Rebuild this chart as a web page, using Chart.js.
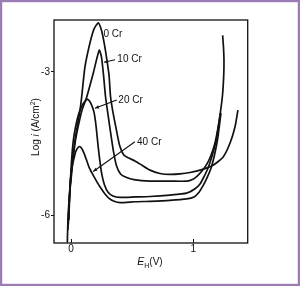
<!DOCTYPE html>
<html>
<head>
<meta charset="utf-8">
<script src="https://cdn.jsdelivr.net/npm/chart.js@4/dist/chart.umd.min.js"></script>
<style>
  html, body { margin: 0; padding: 0; background: #fff; }
  #wrap { width: 300px; height: 286px; }
</style>
</head>
<body>
<div id="wrap"><canvas id="polChart" width="300" height="286"></canvas></div>
<script>
// potential E_H (V) and log i (A/cm2)
const e0 = [-0.03, -0.025, -0.016, -0.004, 0.012, 0.033, 0.053, 0.074, 0.087, 0.114, 0.155, 0.188, 0.223, 0.251, 0.274, 0.294, 0.311, 0.323, 0.343, 0.368, 0.397, 0.433, 0.474, 0.523, 0.581, 0.646, 0.728, 0.809, 0.891, 0.973, 1.069, 1.161, 1.243, 1.300, 1.341, 1.365];
const l0 = [-6.56, -6.09, -5.67, -5.26, -4.84, -4.42, -4.11, -3.80, -3.53, -2.90, -2.40, -2.11, -1.98, -2.15, -2.44, -2.76, -3.07, -3.51, -3.84, -4.17, -4.53, -4.74, -4.80, -4.86, -4.95, -5.05, -5.12, -5.14, -5.13, -5.10, -5.04, -4.95, -4.78, -4.49, -4.15, -3.80];

const e10 = [-0.026, -0.018, -0.008, 0.004, 0.016, 0.037, 0.061, 0.090, 0.128, 0.182, 0.231, 0.249, 0.266, 0.282, 0.303, 0.327, 0.348, 0.372, 0.405, 0.450, 0.515, 0.646, 0.809, 0.946, 0.998, 1.030, 1.071, 1.112, 1.145, 1.177, 1.202, 1.222, 1.239, 1.249, 1.251, 1.247, 1.240];
const l10 = [-6.30, -5.88, -5.46, -5.15, -4.84, -4.42, -4.11, -3.80, -3.53, -3.03, -2.55, -2.69, -3.07, -3.51, -3.90, -4.32, -4.67, -4.96, -5.13, -5.20, -5.25, -5.28, -5.28, -5.28, -5.24, -5.18, -5.07, -4.92, -4.74, -4.49, -4.17, -3.84, -3.49, -3.07, -2.76, -2.49, -2.24];

const e20 = [-0.022, -0.016, -0.008, 0.000, 0.011, 0.025, 0.049, 0.074, 0.098, 0.119, 0.133, 0.151, 0.168, 0.188, 0.204, 0.221, 0.237, 0.253, 0.274, 0.303, 0.343, 0.401, 0.523, 0.646, 0.809, 0.946, 1.014, 1.055, 1.087, 1.120, 1.153, 1.182, 1.202, 1.222];
const l20 = [-6.19, -5.78, -5.42, -5.05, -4.63, -4.32, -4.01, -3.80, -3.67, -3.60, -3.57, -3.61, -3.69, -3.84, -4.11, -4.53, -4.88, -5.15, -5.36, -5.51, -5.59, -5.62, -5.61, -5.60, -5.57, -5.53, -5.44, -5.34, -5.19, -5.01, -4.76, -4.49, -4.21, -3.86];

const e40 = [-0.018, -0.012, -0.004, 0.008, 0.025, 0.041, 0.065, 0.082, 0.102, 0.127, 0.151, 0.180, 0.213, 0.245, 0.278, 0.311, 0.352, 0.401, 0.523, 0.646, 0.809, 0.946, 1.006, 1.047, 1.079, 1.112, 1.145, 1.173, 1.198, 1.214, 1.226];
const l40 = [-6.09, -5.67, -5.26, -4.99, -4.80, -4.65, -4.56, -4.58, -4.67, -4.84, -5.01, -5.15, -5.30, -5.43, -5.55, -5.64, -5.70, -5.73, -5.71, -5.70, -5.68, -5.65, -5.61, -5.51, -5.38, -5.21, -5.01, -4.74, -4.42, -4.11, -3.86];

const xTicks = [0, 1];
const yTicks = [-6, -3];

// curve labels, anchored in data units, with leader lines to the curve
const curveLabels = [
  { text: '0 Cr', at: [0.266, -2.21] },
  { text: '10 Cr', at: [0.379, -2.74], from: [0.360, -2.75], to: [0.270, -2.80] },
  { text: '20 Cr', at: [0.387, -3.60], from: [0.374, -3.59], to: [0.196, -3.76] },
  { text: '40 Cr', at: [0.540, -4.46], from: [0.523, -4.46], to: [0.182, -5.08] }
];

const FONT = '"Liberation Sans", Arial, Helvetica, sans-serif';
const INK = '#111';

function pts(es, ls) {
  return es.map((e, i) => ({ x: e, y: ls[i] }));
}

function curve(label, es, ls) {
  return {
    label: label,
    data: pts(es, ls),
    showLine: true,
    borderColor: INK,
    borderWidth: 1.7,
    pointRadius: 0,
    tension: 0.2,
    fill: false
  };
}

// draw a run of text pieces with their own font / vertical shift
function richText(ctx, parts, x, y) {
  let w = 0;
  parts.forEach(p => { ctx.font = p.font; w += ctx.measureText(p.t).width; });
  let cx = x - w / 2;
  parts.forEach(p => {
    ctx.font = p.font;
    ctx.fillText(p.t, cx, y + (p.dy || 0));
    cx += ctx.measureText(p.t).width;
  });
}

const extras = {
  id: 'extras',
  beforeDraw(chart) {
    const { ctx, width, height } = chart;
    ctx.save();
    ctx.fillStyle = '#fff';
    ctx.fillRect(0, 0, width, height);
    ctx.restore();
  },
  afterDraw(chart) {
    const { ctx, width, height, chartArea: a, scales: { x, y } } = chart;
    ctx.save();

    // plot frame
    ctx.strokeStyle = INK;
    ctx.lineWidth = 1.3;
    ctx.strokeRect(a.left, a.top, a.right - a.left, a.bottom - a.top);

    // x ticks point into the plot
    ctx.lineWidth = 1;
    xTicks.forEach(v => {
      const px = Math.round(x.getPixelForValue(v)) + 0.5;
      ctx.beginPath();
      ctx.moveTo(px, a.bottom);
      ctx.lineTo(px, a.bottom - 4);
      ctx.stroke();
    });

    // curve labels + leaders
    ctx.fillStyle = INK;
    ctx.textBaseline = 'middle';
    ctx.textAlign = 'left';
    ctx.font = '10px ' + FONT;
    curveLabels.forEach(lb => {
      ctx.fillText(lb.text, x.getPixelForValue(lb.at[0]), y.getPixelForValue(lb.at[1]));
      if (!lb.from) return;
      const x1 = x.getPixelForValue(lb.from[0]), y1 = y.getPixelForValue(lb.from[1]);
      const x2 = x.getPixelForValue(lb.to[0]), y2 = y.getPixelForValue(lb.to[1]);
      ctx.lineWidth = 1.1;
      ctx.beginPath();
      ctx.moveTo(x1, y1);
      ctx.lineTo(x2, y2);
      ctx.stroke();
      const ang = Math.atan2(y2 - y1, x2 - x1);
      ctx.beginPath();
      ctx.moveTo(x2, y2);
      ctx.lineTo(x2 - 4 * Math.cos(ang) + 1.7 * Math.sin(ang), y2 - 4 * Math.sin(ang) - 1.7 * Math.cos(ang));
      ctx.lineTo(x2 - 4 * Math.cos(ang) - 1.7 * Math.sin(ang), y2 - 4 * Math.sin(ang) + 1.7 * Math.cos(ang));
      ctx.closePath();
      ctx.fill();
    });

    // axis titles
    ctx.textAlign = 'left';
    ctx.textBaseline = 'alphabetic';
    ctx.save();
    ctx.translate(38.5, 127);
    ctx.rotate(-Math.PI / 2);
    richText(ctx, [
      { t: 'Log ', font: '10px ' + FONT },
      { t: 'i', font: 'italic 10px ' + FONT },
      { t: ' (A/cm', font: '10px ' + FONT },
      { t: '2', font: '7px ' + FONT, dy: -4 },
      { t: ')', font: '10px ' + FONT }
    ], 0, 0);
    ctx.restore();
    richText(ctx, [
      { t: 'E', font: 'italic 10.5px ' + FONT },
      { t: 'H', font: '7px ' + FONT, dy: 2.5 },
      { t: '(V)', font: '10px ' + FONT }
    ], 150, 265);

    // purple picture border
    ctx.strokeStyle = '#9a7bb4';
    ctx.lineWidth = 2.2;
    ctx.strokeRect(1.1, 1.1, width - 2.2, height - 2.2);
    ctx.restore();
  }
};

new Chart(document.getElementById('polChart'), {
  type: 'scatter',
  data: {
    datasets: [
      curve('0 Cr', e0, l0),
      curve('10 Cr', e10, l10),
      curve('20 Cr', e20, l20),
      curve('40 Cr', e40, l40)
    ]
  },
  options: {
    responsive: false,
    animation: false,
    layout: { padding: { left: 0, right: 52.3, top: 20, bottom: 0 } },
    plugins: {
      legend: { display: false },
      tooltip: { enabled: false }
    },
    scales: {
      x: {
        type: 'linear',
        min: -0.139,
        max: 1.445,
        afterBuildTicks: s => { s.ticks = xTicks.map(v => ({ value: v })); },
        afterFit: s => { s.height = 43; },
        grid: { display: false, drawTicks: false },
        border: { display: false },
        ticks: { color: INK, padding: 0, font: { family: FONT, size: 10 }, callback: v => String(v) }
      },
      y: {
        type: 'linear',
        min: -6.57,
        max: -1.92,
        afterBuildTicks: s => { s.ticks = yTicks.map(v => ({ value: v })); },
        afterFit: s => { s.width = 54; },
        grid: { display: true, drawOnChartArea: false, drawTicks: true, tickLength: 3, color: INK },
        border: { display: false },
        ticks: { color: INK, padding: 1, font: { family: FONT, size: 10 }, callback: v => String(v) }
      }
    }
  },
  plugins: [extras]
});
</script>
</body>
</html>
